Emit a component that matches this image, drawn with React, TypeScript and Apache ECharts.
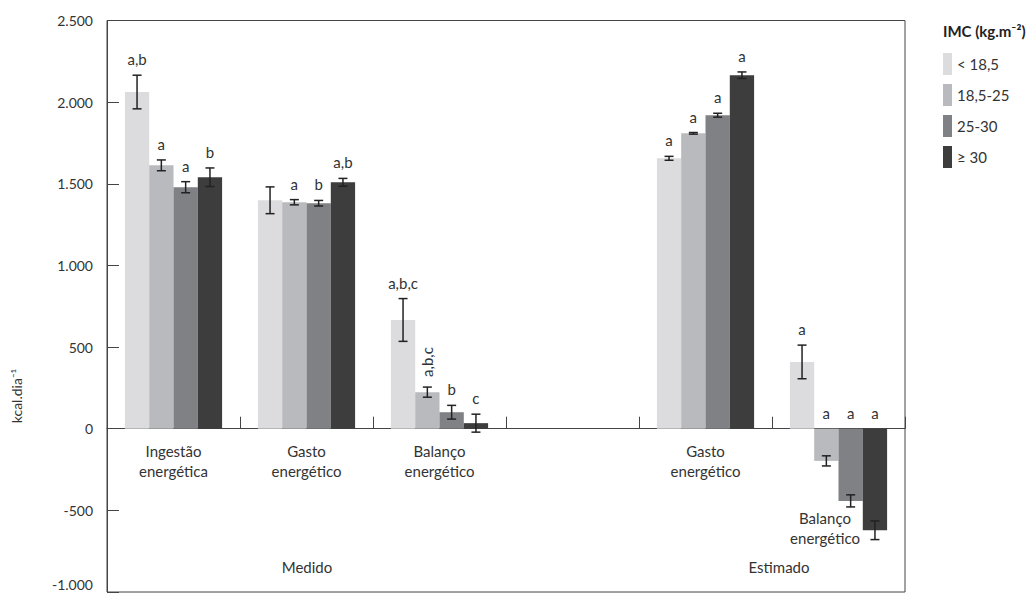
import React, { useEffect, useRef } from "react";
import * as echarts from "echarts";

const categories = ["Ingestão\nenergética", "Gasto\nenergético", "Balanço\nenergético", "", "Gasto\nenergético", ""];
const seriesNames = ["< 18,5", "18,5-25", "25-30", "≥ 30"];
const values = [
  [2062, 1399, 666, null, 1656, 409],
  [1613, 1387, 224, null, 1809, -197],
  [1479, 1381, 101, null, 1920, -442],
  [1540, 1509, 34, null, 2165, -622],
];
const errors = [
  [103, 82, 131, 0, 12, 103],
  [33, 16, 31, 0, 5, 31],
  [34, 17, 42, 0, 12, 37],
  [57, 24, 55, 0, 20, 57],
];
const letters = [
  ["a,b", "", "a,b,c", "", "a", "a"],
  ["a", "a", "a,b,c", "", "a", "a"],
  ["a", "b", "b", "", "a", "a"],
  ["b", "a,b", "c", "", "a", "a"],
];
const rotatedLetters = [[1, 2]]; // [series, category] labels drawn vertically
const yTicks = [-1000, 2500, 500];
const groupLabels = ["Medido", "Estimado"];
const estimatedBalanceLabel = "Balanço\nenergético";
const yAxisName = "kcal.dia⁻¹";
const legendTitle = "IMC (kg.m⁻²)";

const colors = ["#dcdcde", "#b9babd", "#808184", "#3d3d3e"];
const BAR_W = 24.3;
const FONT = "Lato, 'Open Sans', sans-serif";
const TXT = "#333";

function fmt(v: number) {
  const neg = v < 0;
  const s = Math.abs(v).toString().replace(/\B(?=(\d{3})+(?!\d))/g, ".");
  return (neg ? "-" : "") + s;
}

export default function App() {
  const ref = useRef<HTMLDivElement>(null);
  useEffect(() => {
    if (!ref.current) return;
    const chart = echarts.init(ref.current, undefined, { renderer: "svg" });

    const errData: any[] = [];
    values.forEach((arr, s) =>
      arr.forEach((v, c) => {
        if (v !== null) errData.push([c, s, v, errors[s][c]]);
      })
    );
    const catData: any[] = [];
    categories.forEach((t, c) => {
      if (t) catData.push([c, 0]);
    });

    const option: any = {
      animation: false,
      backgroundColor: "#fff",
      textStyle: { fontFamily: FONT },
      grid: {
        left: 107,
        right: 131,
        top: 20.5,
        bottom: 3,
        show: true,
        borderColor: "#444",
        borderWidth: 1,
        containLabel: false,
        outerBoundsMode: "none",
      },
      legend: {
        orient: "vertical",
        left: 943,
        top: 53,
        padding: 0,
        itemWidth: 9,
        itemHeight: 22,
        itemGap: 9,
        icon: "rect",
        data: seriesNames,
        textStyle: { fontSize: 15, color: TXT, fontFamily: FONT, padding: [0, 0, 4, 0] },
      },
      xAxis: {
        type: "category",
        data: categories,
        axisLine: { onZero: true, lineStyle: { color: "#444", width: 1 } },
        axisTick: { show: true, inside: true, length: 12, interval: 0, lineStyle: { color: "#444" } },
        axisLabel: { show: false },
        splitLine: { show: false },
      },
      yAxis: {
        type: "value",
        min: yTicks[0],
        max: yTicks[1],
        interval: yTicks[2],
        axisLine: { show: true, lineStyle: { color: "#444" } },
        axisTick: { show: true, inside: true, length: 12, lineStyle: { color: "#444" } },
        axisLabel: {
          margin: 14,
          fontSize: 14,
          color: TXT,
          fontFamily: FONT,
          formatter: (v: number) => (v === yTicks[0] ? `{low|${fmt(v)}}` : fmt(v)),
          rich: { low: { fontSize: 14, color: TXT, fontFamily: FONT, padding: [0, 0, 16, 0] } },
        },
        splitLine: { show: false },
      },
      series: [
        ...values.map((arr, s) => ({
          name: seriesNames[s],
          type: "bar",
          data: arr,
          barWidth: BAR_W,
          barGap: "0%",
          itemStyle: { color: colors[s] },
          z: 2,
        })),
        {
          type: "custom",
          data: errData,
          encode: { x: 0, y: 2 },
          z: 5,
          clip: false,
          silent: true,
          renderItem: (params: any, api: any) => {
            const c = api.value(0);
            const s = api.value(1);
            const v = api.value(2);
            const e = api.value(3);
            const base = api.coord([c, v]);
            const x = base[0] + (s - 1.5) * BAR_W;
            const yTop = api.coord([c, v + e])[1];
            const yBot = api.coord([c, v - e])[1];
            const y0 = api.coord([c, 0])[1];
            const cap = 4.5;
            const ls = { stroke: "#222", lineWidth: 1.5 };
            const children: any[] = [
              { type: "line", shape: { x1: x, y1: yTop, x2: x, y2: yBot }, style: ls },
              { type: "line", shape: { x1: x - cap, y1: yTop, x2: x + cap, y2: yTop }, style: ls },
              { type: "line", shape: { x1: x - cap, y1: yBot, x2: x + cap, y2: yBot }, style: ls },
            ];
            const txt = letters[s][c];
            if (txt) {
              const rotated = rotatedLetters.some((r) => r[0] === s && r[1] === c);
              if (rotated) {
                children.push({
                  type: "text",
                  x: x,
                  y: yTop - 25,
                  rotation: Math.PI / 2,
                  style: { text: txt, fill: TXT, font: `15px ${FONT}`, align: "center", verticalAlign: "middle" },
                });
              } else {
                const ly = v >= 0 ? yTop - 16 : y0 - 16;
                children.push({
                  type: "text",
                  x: x,
                  y: ly,
                  style: { text: txt, fill: TXT, font: `15px ${FONT}`, align: "center", verticalAlign: "middle" },
                });
              }
            }
            return { type: "group", children };
          },
        },
        {
          type: "custom",
          data: catData,
          encode: { x: 0, y: 1 },
          z: 5,
          clip: false,
          silent: true,
          renderItem: (params: any, api: any) => {
            const c = api.value(0);
            const p = api.coord([c, 0]);
            return {
              type: "text",
              x: p[0],
              y: p[1] + 12,
              style: {
                text: categories[c],
                fill: TXT,
                font: `15px ${FONT}`,
                lineHeight: 20,
                align: "center",
                verticalAlign: "top",
              },
            };
          },
        },
      ],
      graphic: [
        {
          type: "text",
          x: 16,
          y: 396,
          rotation: Math.PI / 2,
          style: { text: yAxisName, fill: TXT, font: `14px ${FONT}`, align: "center", verticalAlign: "middle" },
        },
        {
          type: "text",
          x: 943,
          y: 31,
          style: { text: legendTitle, fill: "#222", font: `bold 15px ${FONT}`, align: "left", verticalAlign: "middle" },
        },
        {
          type: "text",
          x: 307,
          y: 567,
          style: { text: groupLabels[0], fill: TXT, font: `15px ${FONT}`, align: "center", verticalAlign: "middle" },
        },
        {
          type: "text",
          x: 779,
          y: 567,
          style: { text: groupLabels[1], fill: TXT, font: `15px ${FONT}`, align: "center", verticalAlign: "middle" },
        },
        {
          type: "text",
          x: 825,
          y: 528,
          style: {
            text: estimatedBalanceLabel,
            fill: TXT,
            font: `15px ${FONT}`,
            lineHeight: 20,
            align: "center",
            verticalAlign: "middle",
          },
        },
      ],
    };
    chart.setOption(option);
    return () => chart.dispose();
  }, []);
  return (
    <div
      ref={ref}
      style={{ position: "fixed", left: 0, top: 0, width: 1036, height: 595, background: "#fff" }}
    />
  );
}
